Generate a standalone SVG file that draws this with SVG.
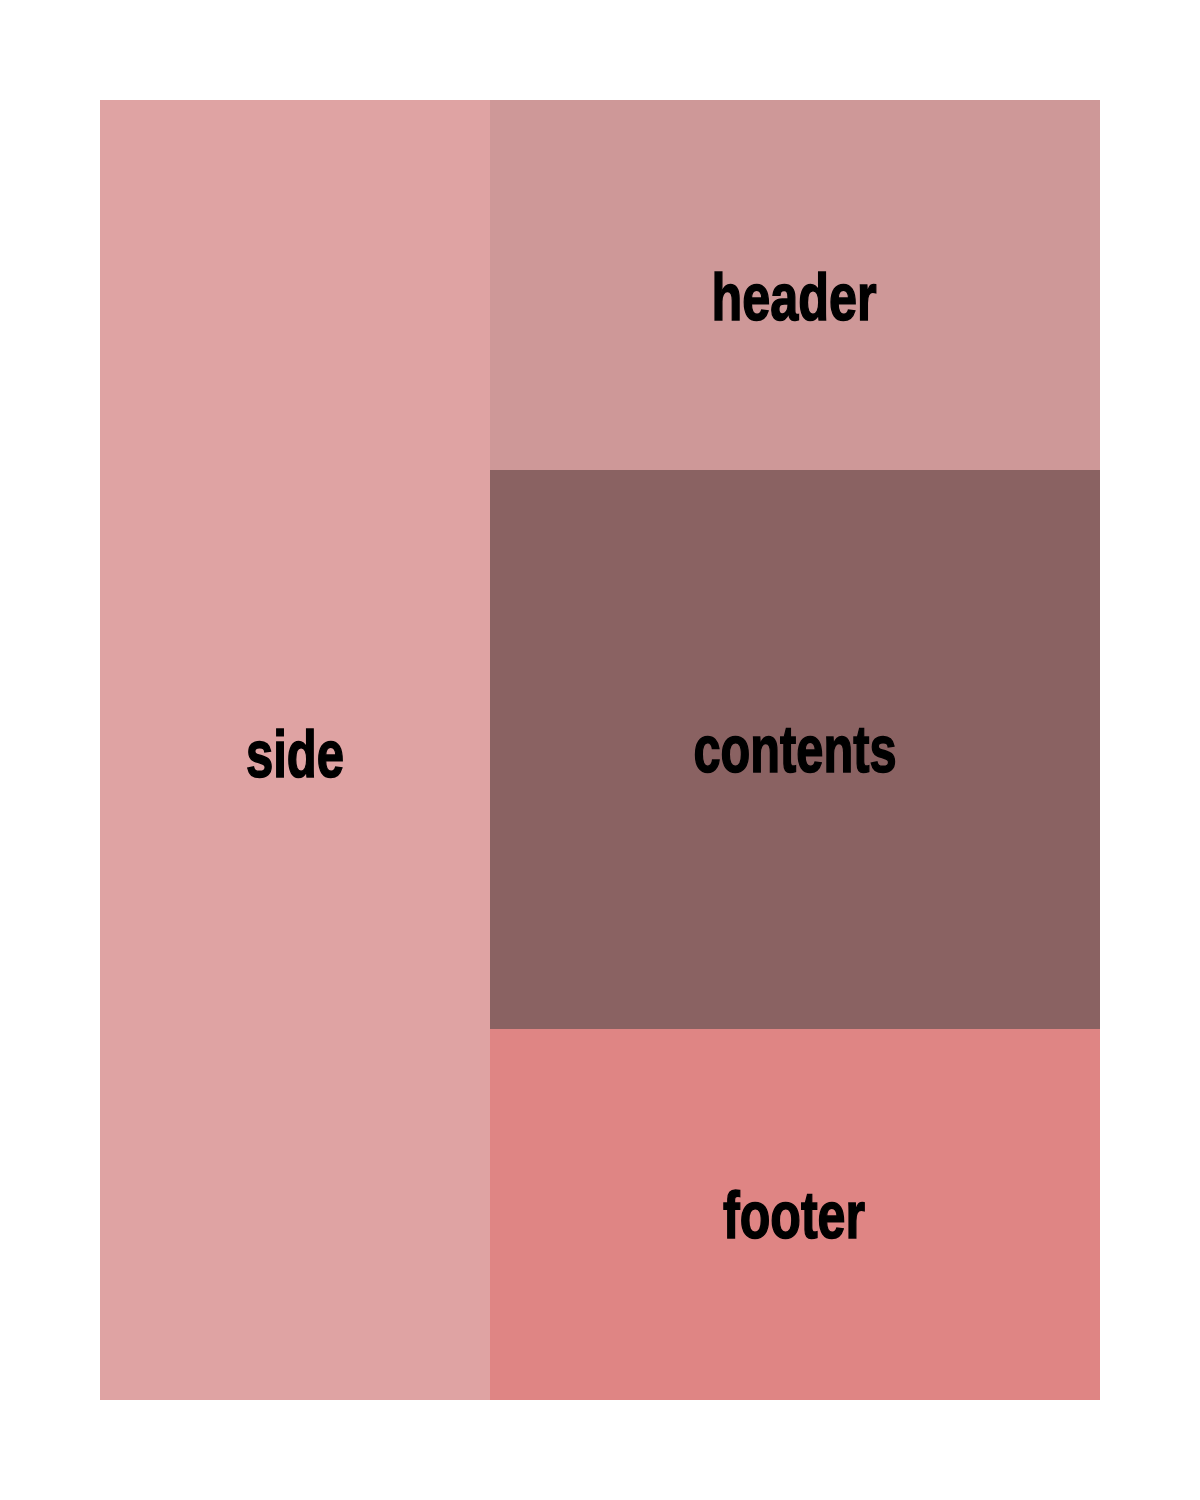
<svg xmlns="http://www.w3.org/2000/svg" width="1200" height="1500" viewBox="0 0 1200 1500">
<style>
.lbl{font-family:"Liberation Sans",Arial,sans-serif;font-weight:bold;font-size:66px;fill:#000;stroke:#000;stroke-width:1.6px;text-anchor:middle}
</style>
<rect x="0" y="0" width="1200" height="1500" fill="#ffffff"/>
<g id="side"><rect x="100" y="100" width="390" height="1300" fill="#dfa3a3"/><text class="lbl" x="295" y="777" textLength="98" lengthAdjust="spacingAndGlyphs">side</text></g>
<g id="header"><rect x="490" y="100" width="610" height="370" fill="#ce9898"/><text class="lbl" x="794" y="320" textLength="165" lengthAdjust="spacingAndGlyphs">header</text></g>
<g id="contents"><rect x="490" y="470" width="610" height="559" fill="#8a6262"/><text class="lbl" x="795" y="772" textLength="203" lengthAdjust="spacingAndGlyphs">contents</text></g>
<g id="footer"><rect x="490" y="1029" width="610" height="371" fill="#df8584"/><text class="lbl" x="794" y="1238" textLength="142" lengthAdjust="spacingAndGlyphs">footer</text></g>
<g id="connectors"></g>
</svg>
